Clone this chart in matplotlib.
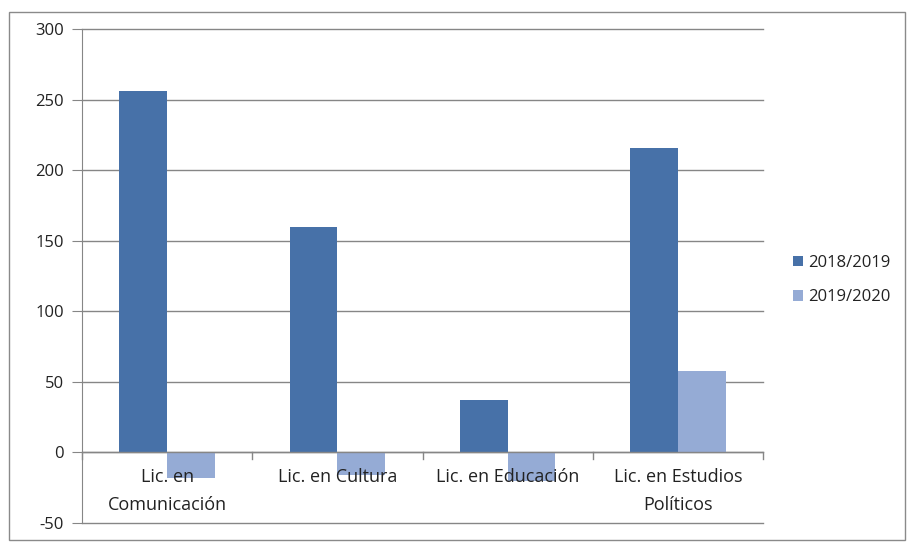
import matplotlib.pyplot as plt
import matplotlib.patches as patches
import numpy as np

plt.rcParams['font.family'] = ['Open Sans', 'DejaVu Sans']
plt.rcParams['axes.unicode_minus'] = False

categories = ['Lic. en\nComunicación', 'Lic. en Cultura', 'Lic. en Educación',
              'Lic. en Estudios\nPolíticos']
series_names = ['2018/2019', '2019/2020']
v2018 = [256, 160, 37, 216]
v2019 = [-18, -16, -20, 58]
colors = ['#4771A8', '#95ABD5']

W, H = 910, 544
fig = plt.figure(figsize=(W / 100, H / 100), dpi=100)
fig.patch.set_facecolor('white')

# outer chart border
fig.add_artist(patches.Rectangle((9 / W, 4 / H), 896 / W, 528 / H,
                                 transform=fig.transFigure, fill=False,
                                 edgecolor='#8a8a8a', linewidth=1.0))

ax = fig.add_axes([82 / W, (H - 523) / H, (763 - 82) / W, (523 - 29) / H])

x = np.arange(len(categories))
bw = 0.28
ax.bar(x - bw / 2, v2018, bw, color=colors[0], label=series_names[0], zorder=3)
ax.bar(x + bw / 2, v2019, bw, color=colors[1], label=series_names[1], zorder=3)

ax.set_xlim(-0.5, len(categories) - 0.5)
ax.set_ylim(-50, 300)
ax.set_yticks(np.arange(-50, 301, 50))
ax.yaxis.grid(True, color='#868686', linewidth=1.0, zorder=0)
for gl in ax.get_ygridlines():
    gl.set_clip_on(False)
ax.set_axisbelow(True)

for s in ['top', 'right', 'bottom']:
    ax.spines[s].set_visible(False)
ax.spines['left'].set_color('#868686')
ax.tick_params(axis='y', length=7, color='#868686', labelsize=12,
               labelcolor='#222222', pad=6)
ax.set_xticks([])

# zero axis with category ticks
ax.axhline(0, color='#868686', linewidth=1.0, zorder=4)
for b in np.arange(-0.5, len(categories), 1.0):
    ax.plot([b, b], [0, -5], color='#868686', linewidth=1.0, zorder=4,
            clip_on=False)

for i, c in enumerate(categories):
    ax.annotate(c, xy=(i, 0), xytext=(0, -11), textcoords='offset points',
                ha='center', va='top', fontsize=13, color='#222222',
                linespacing=1.75, zorder=5)

leg = fig.legend(loc='center left', bbox_to_anchor=(778 / W, (H - 280) / H),
                 frameon=False, fontsize=12, handlelength=0.6, handleheight=0.6,
                 handletextpad=0.3, labelspacing=1.1)
for t in leg.get_texts():
    t.set_color('#222222')

fig.savefig('out.png', dpi=100, facecolor='white')
